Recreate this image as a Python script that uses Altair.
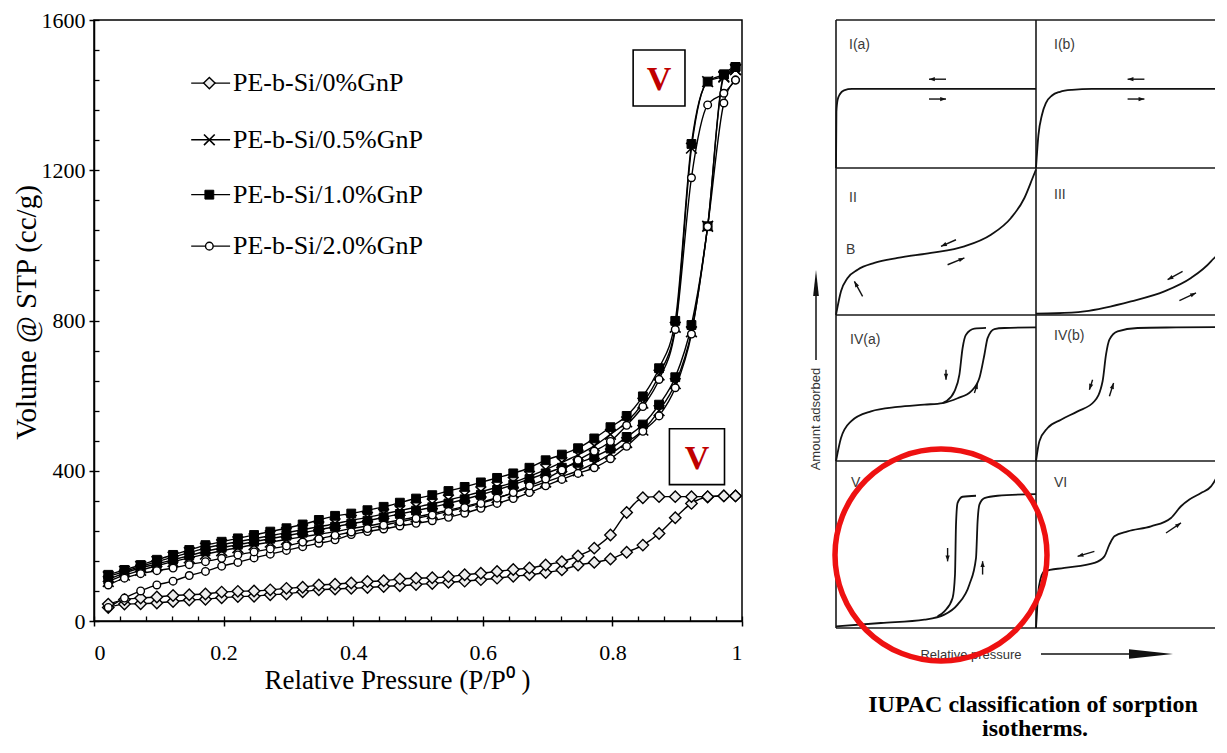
import math
import pandas as pd
import altair as alt

# ------------------------------------------------------------------
# LEFT CHART DATA  (relative pressure vs volume adsorbed)
# ------------------------------------------------------------------
P = [0.022, 0.047, 0.072, 0.097, 0.122, 0.147, 0.172, 0.197, 0.222, 0.247,
     0.272, 0.297, 0.322, 0.347, 0.372, 0.397, 0.422, 0.447, 0.472, 0.497,
     0.522, 0.547, 0.572, 0.597, 0.622, 0.647, 0.672, 0.697, 0.722, 0.747,
     0.772, 0.797, 0.822, 0.847, 0.872, 0.897, 0.922, 0.947, 0.972, 0.990]

series_names = ["PE-b-Si/0%GnP", "PE-b-Si/0.5%GnP", "PE-b-Si/1.0%GnP", "PE-b-Si/2.0%GnP"]

gnp00_ads = [36, 45, 46, 48, 52, 56, 58, 62, 65, 66, 70, 72, 78, 83, 85, 87, 89, 92, 94, 97,
             100, 103, 106, 110, 114, 119, 123, 129, 136, 149, 156, 165, 183, 202, 233, 275,
             313, 330, 333, 333]
gnp00_des = [45, 57, 61, 64, 68, 70, 72, 77, 79, 80, 83, 87, 90, 96, 98, 101, 105, 107, 112, 114,
             115, 118, 123, 127, 132, 137, 141, 149, 158, 173, 194, 229, 289, 328, 331, 331,
             331, 331, 333, 333]

gnp05_ads = [105, 122, 135, 147, 158, 168, 178, 187, 195, 203, 210, 217, 224, 231, 238, 246,
             253, 261, 269, 277, 286, 295, 305, 316, 328, 341, 355, 370, 385, 400, 420, 445,
             475, 508, 560, 632, 770, 1051, 1448, 1468]
gnp05_des = [118, 132, 145, 158, 170, 182, 194, 203, 211, 219, 227, 235, 243, 251, 259, 268,
             276, 285, 294, 303, 312, 322, 333, 344, 356, 369, 385, 403, 422, 442, 466, 497,
             530, 580, 655, 782, 1259, 1436, 1450, 1468]

gnp10_ads = [110, 128, 141, 152, 163, 174, 185, 195, 203, 211, 219, 227, 235, 243, 251, 259,
             267, 276, 285, 294, 303, 313, 324, 336, 349, 363, 378, 393, 408, 421, 437, 459,
             490, 523, 576, 649, 788, 1051, 1455, 1475]
gnp10_des = [123, 136, 149, 163, 176, 189, 202, 211, 220, 229, 238, 247, 257, 269, 280, 286,
             295, 304, 315, 326, 335, 346, 357, 369, 381, 393, 408, 428, 443, 460, 486, 516,
             546, 598, 673, 799, 1270, 1436, 1455, 1475]

gnp20_ads = [36, 61, 80, 96, 106, 121, 132, 146, 156, 168, 178, 188, 198, 207, 216, 230,
             238, 245, 253, 260, 267, 276, 287, 300, 313, 326, 342, 360, 377, 393, 408, 432,
             465, 505, 546, 621, 764, 1050, 1379, 1440]
gnp20_des = [96, 114, 126, 134, 141, 150, 158, 167, 176, 184, 192, 200, 210, 219, 228, 237,
             246, 255, 264, 273, 282, 292, 302, 313, 327, 342, 360, 378, 402, 428, 452, 478,
             521, 571, 643, 776, 1180, 1374, 1405, 1440]

branches = {
    series_names[0]: (gnp00_ads, gnp00_des),
    series_names[1]: (gnp05_ads, gnp05_des),
    series_names[2]: (gnp10_ads, gnp10_des),
    series_names[3]: (gnp20_ads, gnp20_des),
}

# in-plot legend (data units)
leg_V = [1432, 1281, 1135, 998]
leg_line_P = [0.150, 0.210]
leg_sym_P = 0.178
leg_text_P = 0.2145

# "V" annotation boxes
box_P0 = [0.832, 0.888]
box_P1 = [0.912, 0.973]
box_V0 = [1371, 363]
box_V1 = [1520, 512]
box_label = ["V", "V"]

x_major = [0, 0.2, 0.4, 0.6, 0.8, 1.0]
x_minor = [0, 0.04, 0.08, 0.12, 0.16, 0.2, 0.24, 0.28, 0.32, 0.36, 0.4, 0.44, 0.48,
           0.52, 0.56, 0.6, 0.64, 0.68, 0.72, 0.76, 0.8, 0.84, 0.88, 0.92, 0.96, 1.0]
y_major = [0, 400, 800, 1200, 1600]
y_minor = [0, 80, 160, 240, 320, 400, 480, 560, 640, 720, 800, 880, 960, 1040, 1120,
           1200, 1280, 1360, 1440, 1520, 1600]

# ------------------------------------------------------------------
# RIGHT FIGURE DATA (IUPAC schematic isotherms, normalised per panel)
# ------------------------------------------------------------------
Ia_p = [0, 0.002, 0.008, 0.02, 0.04, 0.08, 1.0]
Ia_a = [0, 0.38, 0.46, 0.50, 0.525, 0.534, 0.534]
Ib_p = [0, 0.012, 0.03, 0.05, 0.08, 0.12, 0.18, 0.28, 1.0]
Ib_a = [0, 0.22, 0.36, 0.44, 0.49, 0.515, 0.528, 0.534, 0.534]
II_p = [0, 0.025, 0.058, 0.108, 0.192, 0.308, 0.475, 0.642, 0.775, 0.875, 0.942, 0.983, 1.0]
II_a = [0, 0.161, 0.252, 0.308, 0.354, 0.388, 0.422, 0.467, 0.546, 0.66, 0.796, 0.932, 0.99]
III_p = [0, 0.1, 0.242, 0.475, 0.642, 0.775, 0.875, 0.958, 0.985, 1.0]
III_a = [0.01, 0.012, 0.025, 0.093, 0.161, 0.252, 0.365, 0.524, 0.72, 0.99]
IVa_ads_p = [0, 0.025, 0.075, 0.175, 0.308, 0.442, 0.533, 0.608, 0.675, 0.717, 0.742, 0.758, 0.792, 0.842, 1.0]
IVa_ads_a = [0, 0.158, 0.272, 0.34, 0.37, 0.386, 0.397, 0.43, 0.477, 0.568, 0.728, 0.842, 0.904, 0.911, 0.915]
IVa_des_p = [0.533, 0.55, 0.592, 0.617, 0.633, 0.65, 0.692, 0.75]
IVa_des_a = [0.397, 0.409, 0.477, 0.591, 0.774, 0.865, 0.906, 0.912]
IVb_p = [0, 0.017, 0.058, 0.125, 0.208, 0.292, 0.333, 0.35, 0.367, 0.408, 0.508, 0.7, 1.0]
IVb_a = [0, 0.135, 0.226, 0.283, 0.34, 0.409, 0.546, 0.728, 0.831, 0.888, 0.911, 0.915, 0.918]
V_ads_p = [0, 0.225, 0.442, 0.542, 0.608, 0.667, 0.7, 0.708, 0.717, 0.742, 0.808, 1.0]
V_ads_a = [0.01, 0.03, 0.05, 0.08, 0.14, 0.26, 0.419, 0.639, 0.739, 0.778, 0.792, 0.802]
V_des_p = [0.508, 0.542, 0.583, 0.595, 0.6, 0.608, 0.633, 0.7]
V_des_a = [0.07, 0.1, 0.18, 0.32, 0.619, 0.749, 0.786, 0.792]
VI_p = [0, 0.006, 0.015, 0.042, 0.142, 0.292, 0.342, 0.367, 0.392, 0.458, 0.575, 0.675,
        0.725, 0.767, 0.825, 0.875, 0.908, 0.925]
VI_a = [0, 0.12, 0.25, 0.34, 0.36, 0.39, 0.429, 0.499, 0.549, 0.579, 0.609, 0.659,
        0.729, 0.769, 0.808, 0.848, 0.918, 0.99]

curve_list = [
    ("Ia", "Ia", Ia_p, Ia_a), ("Ib", "Ib", Ib_p, Ib_a),
    ("II", "II", II_p, II_a), ("III", "III", III_p, III_a),
    ("IVa", "IVa_ads", IVa_ads_p, IVa_ads_a), ("IVa", "IVa_des", IVa_des_p, IVa_des_a),
    ("IVb", "IVb", IVb_p, IVb_a),
    ("V", "V_ads", V_ads_p, V_ads_a), ("V", "V_des", V_des_p, V_des_a),
    ("VI", "VI", VI_p, VI_a),
]

# small arrows: panel, tail (p, a), head (p, a)
arrow_panel = ["Ia", "Ia", "Ib", "Ib", "II", "II", "II", "III", "III",
               "IVa", "IVa", "IVb", "IVb", "V", "V", "VI", "VI"]
arrow_tail_p = [0.55, 0.465, 0.542, 0.458, 0.60, 0.558, 0.133, 0.733, 0.717,
                0.55, 0.692, 0.283, 0.367, 0.558, 0.733, 0.292, 0.65]
arrow_tail_a = [0.60, 0.466, 0.60, 0.466, 0.512, 0.342, 0.127, 0.297, 0.097,
                0.625, 0.466, 0.557, 0.443, 0.479, 0.32, 0.459, 0.569]
arrow_head_p = [0.465, 0.55, 0.458, 0.542, 0.525, 0.642, 0.092, 0.658, 0.80,
                0.55, 0.708, 0.267, 0.388, 0.558, 0.733, 0.208, 0.725]
arrow_head_a = [0.60, 0.466, 0.60, 0.466, 0.467, 0.388, 0.229, 0.24, 0.15,
                0.557, 0.534, 0.488, 0.534, 0.399, 0.40, 0.429, 0.629]

panel_labels = ["I(a)", "I(b)", "II", "III", "IV(a)", "IV(b)", "V", "VI", "B"]
label_panel = ["Ia", "Ib", "II", "III", "IVa", "IVb", "V", "VI", "II"]
label_p = [0.065, 0.09, 0.065, 0.09, 0.07, 0.09, 0.075, 0.09, 0.05]
label_a = [0.83, 0.83, 0.796, 0.818, 0.83, 0.856, 0.868, 0.868, 0.444]

# ------------------------------------------------------------------
# layout of the right-hand figure (page pixels)
# ------------------------------------------------------------------
GRID_LEFT = 835
COL_W = 200
ROW_TOP = [22, 170, 317, 463]
ROW_BOT = [170, 317, 463, 630]
panel_pos = {"Ia": (0, 0), "Ib": (1, 0), "II": (0, 1), "III": (1, 1),
             "IVa": (0, 2), "IVb": (1, 2), "V": (0, 3), "VI": (1, 3)}
RX0, RX1 = 790, 1214
RY0, RY1 = 22, 741


def fig_xy(panel, p, a):
    col, row = panel_pos[panel]
    X = GRID_LEFT + (col + p) * COL_W
    Y = -(ROW_BOT[row] - a * (ROW_BOT[row] - ROW_TOP[row]))
    return X, Y


# ------------------------------------------------------------------
# build left chart
# ------------------------------------------------------------------
SERIF = "Liberation Serif"
SANS = "Liberation Sans"
LW, LH = 648, 601

line_rows, pt_rows = [], []
for i, name in enumerate(series_names):
    ads, des = branches[name]
    for b, vals in (("ads", ads), ("des", des)):
        for p, v in zip(P, vals):
            line_rows.append({"P": p, "V": v, "key": f"{i}_{b}"})
            pt_rows.append({"P": p, "V": v, "series": name})
    for p in leg_line_P:
        line_rows.append({"P": p, "V": leg_V[i], "key": f"{i}_leg"})
    pt_rows.append({"P": leg_sym_P, "V": leg_V[i], "series": name})
lines_df = pd.DataFrame(line_rows)
pts_df = pd.DataFrame(pt_rows)

xs = alt.Scale(domain=[0, 1], nice=False, zero=False)
ys = alt.Scale(domain=[0, 1600], nice=False, zero=False)

axis_x_main = alt.Axis(orient="bottom", values=x_major, format="~g", grid=False,
                       tickSize=5, tickWidth=1.5, tickColor="black",
                       domainColor="black", domainWidth=1.5,
                       labelFont=SERIF, labelFontSize=22, labelColor="black", labelPadding=16,
                       title="Relative Pressure (P/P\u2070 )", titleFont=SERIF, titleFontSize=27,
                       titleFontWeight="normal", titleColor="black", titlePadding=4,
                       titleX=303)
axis_y_main = alt.Axis(orient="left", values=y_major, format="d", grid=False,
                       tickSize=5, tickWidth=1.5, tickColor="black",
                       domainColor="black", domainWidth=1.5,
                       labelFont=SERIF, labelFontSize=22, labelColor="black", labelPadding=4,
                       title="Volume @ STP (cc/g)", titleFont=SERIF, titleFontSize=29,
                       titleFontWeight="normal", titleColor="black", titlePadding=0,
                       titleY=292)
axis_x_in = alt.Axis(orient="top", offset=-LH, values=x_minor, labels=False, domain=False,
                     grid=False, tickSize=5, tickWidth=1.3, tickColor="black", title=None)
axis_y_in = alt.Axis(orient="right", offset=-LW, values=y_minor, labels=False, domain=False,
                     grid=False, tickSize=5, tickWidth=1.3, tickColor="black", title=None)

lines_layer = alt.Chart(lines_df).mark_line(color="black", strokeWidth=1.4,
                                            interpolate="monotone").encode(
    x=alt.X("P:Q", scale=xs, axis=axis_x_main),
    y=alt.Y("V:Q", scale=ys, axis=axis_y_main),
    detail="key:N")

ticks_layer = alt.Chart(lines_df).mark_point(opacity=0).encode(
    x=alt.X("P:Q", scale=xs, axis=axis_x_in),
    y=alt.Y("V:Q", scale=ys, axis=axis_y_in))


def pts(name, **mark):
    return alt.Chart(pts_df[pts_df.series == name]).mark_point(opacity=1, **mark).encode(
        x=alt.X("P:Q", scale=xs, axis=None),
        y=alt.Y("V:Q", scale=ys, axis=None))


dia = pts(series_names[0], shape="diamond", filled=True, fill="#eeeeee", stroke="black",
          strokeWidth=1.4, size=130)
crs = pts(series_names[1], shape="M-1,-1L1,1M-1,1L1,-1", filled=False, stroke="black",
          strokeWidth=1.6, size=115)
sqr = pts(series_names[2], shape="square", filled=True, fill="black", stroke="black",
          strokeWidth=1, size=78)
cir = pts(series_names[3], shape="circle", filled=True, fill="white", stroke="black",
          strokeWidth=1.4, size=58)

leg_df = pd.DataFrame({"P": [leg_text_P] * 4, "V": leg_V, "label": series_names})
leg_text = alt.Chart(leg_df).mark_text(align="left", baseline="middle", font=SERIF,
                                       fontSize=26, color="black").encode(
    x=alt.X("P:Q", scale=xs, axis=None), y=alt.Y("V:Q", scale=ys, axis=None), text="label:N")

box_df = pd.DataFrame({"P0": box_P0, "P1": box_P1, "V0": box_V0, "V1": box_V1, "lab": box_label})
box_df["Pc"] = (box_df.P0 + box_df.P1) / 2
box_df["Vc"] = (box_df.V0 + box_df.V1) / 2
boxes = alt.Chart(box_df).mark_rect(fill="white", stroke="black", strokeWidth=1.6).encode(
    x=alt.X("P0:Q", scale=xs, axis=None), x2="P1:Q",
    y=alt.Y("V0:Q", scale=ys, axis=None), y2="V1:Q")
box_txt = alt.Chart(box_df).mark_text(font=SERIF, fontSize=34, fontWeight="bold",
                                      color="#c00000", baseline="middle", align="center",
                                      dy=2).encode(
    x=alt.X("Pc:Q", scale=xs, axis=None), y=alt.Y("Vc:Q", scale=ys, axis=None), text="lab:N")

left = alt.layer(lines_layer, ticks_layer, dia, crs, sqr, cir, leg_text, boxes, box_txt).resolve_axis(
    x="independent", y="independent").properties(
    width=LW, height=LH, view=alt.ViewBackground(stroke="black", strokeWidth=1.5))

# ------------------------------------------------------------------
# build right figure
# ------------------------------------------------------------------
rxs = alt.Scale(domain=[RX0, RX1], nice=False, zero=False)
rys = alt.Scale(domain=[-RY1, -RY0], nice=False, zero=False)


def RX(f):
    return alt.X(f, scale=rxs, axis=None)


def RY(f):
    return alt.Y(f, scale=rys, axis=None)


# grid lines
grid_rows = []
for yb in [22, 170, 317, 463, 630]:
    grid_rows.append({"X": GRID_LEFT, "X2": min(GRID_LEFT + 2 * COL_W, RX1), "Y": -yb, "Y2": -yb})
for xc in [GRID_LEFT, GRID_LEFT + COL_W]:
    grid_rows.append({"X": xc, "X2": xc, "Y": -22, "Y2": -630})
grid = alt.Chart(pd.DataFrame(grid_rows)).mark_rule(color="#1a1a1a", strokeWidth=1.6).encode(
    x=RX("X:Q"), x2="X2:Q", y=RY("Y:Q"), y2="Y2:Q")

crow = []
for panel, cid, ps, as_ in curve_list:
    for k, (p, a) in enumerate(zip(ps, as_)):
        X, Y = fig_xy(panel, p, a)
        crow.append({"X": X, "Y": Y, "cid": cid, "o": k})
curves = alt.Chart(pd.DataFrame(crow)).mark_line(color="#111111", strokeWidth=1.8,
                                                 interpolate="monotone", clip=True).encode(
    x=RX("X:Q"), y=RY("Y:Q"), detail="cid:N", order="o:Q")

arow = []
for pn, tp, ta, hp, ha in zip(arrow_panel, arrow_tail_p, arrow_tail_a, arrow_head_p, arrow_head_a):
    X1, Y1 = fig_xy(pn, tp, ta)
    X2, Y2 = fig_xy(pn, hp, ha)
    ang = math.degrees(math.atan2(X2 - X1, Y2 - Y1)) % 360
    arow.append({"X": X1, "Y": Y1, "X2": X2, "Y2": Y2, "ang": ang})
arr_df = pd.DataFrame(arow)
arr_shaft = alt.Chart(arr_df).mark_rule(color="#111111", strokeWidth=1.4).encode(
    x=RX("X:Q"), x2="X2:Q", y=RY("Y:Q"), y2="Y2:Q")
arr_head = alt.Chart(arr_df).mark_point(shape="M0,0L-0.55,1.5L0.55,1.5Z", filled=True,
                                        color="#111111", size=60, opacity=1).encode(
    x=RX("X2:Q"), y=RY("Y2:Q"), angle=alt.Angle("ang:Q", scale=None))

lrow = []
for lab, pn, p, a in zip(panel_labels, label_panel, label_p, label_a):
    X, Y = fig_xy(pn, p, a)
    lrow.append({"X": X, "Y": Y, "t": lab})
plabels = alt.Chart(pd.DataFrame(lrow)).mark_text(align="left", baseline="middle", font=SANS,
                                                  fontSize=14, color="#3a3a3a").encode(
    x=RX("X:Q"), y=RY("Y:Q"), text="t:N")

# axis annotations of the schematic
ann_df = pd.DataFrame({"X": [970, 815], "Y": [-657, -421], "t": ["Relative pressure", "Amount adsorbed"],
                       "ang": [0, 270]})
ann_txt = alt.Chart(ann_df).mark_text(align="center", baseline="middle", font=SANS,
                                      fontSize=13, color="#333333").encode(
    x=RX("X:Q"), y=RY("Y:Q"), text="t:N", angle=alt.Angle("ang:Q", scale=None))
big_shaft = alt.Chart(pd.DataFrame({"X": [1040, 815], "X2": [1135, 815],
                                    "Y": [-656, -362], "Y2": [-656, -292]})).mark_rule(
    color="#111111", strokeWidth=1.5).encode(x=RX("X:Q"), x2="X2:Q", y=RY("Y:Q"), y2="Y2:Q")
big_head = alt.Chart(pd.DataFrame({"X": [1150, 815], "Y": [-656, -285], "ang": [90, 0],
                                   "s": [1936, 676]})).mark_point(
    shape="M-0.22,1L0,-1L0.22,1Z", filled=True, color="#111111", opacity=1).encode(
    x=RX("X:Q"), y=RY("Y:Q"), angle=alt.Angle("ang:Q", scale=None), size=alt.Size("s:Q", scale=None))

ring = alt.Chart(pd.DataFrame({"X": [940], "Y": [-557]})).mark_point(
    shape="circle", filled=False, color="#ee1111", strokeWidth=5.5, size=212 * 212, opacity=1).encode(
    x=RX("X:Q"), y=RY("Y:Q"))

cap_df = pd.DataFrame({"X": [1032, 1034], "Y": [-707, -731],
                       "t": ["IUPAC classification of sorption", "isotherms."]})
caption = alt.Chart(cap_df).mark_text(align="center", baseline="middle", font=SERIF, fontSize=24,
                                      fontWeight="bold", color="black").encode(
    x=RX("X:Q"), y=RY("Y:Q"), text="t:N")

right = alt.layer(grid, curves, arr_shaft, arr_head, plabels, ann_txt, big_shaft, big_head,
                  ring, caption).properties(width=RX1 - RX0, height=RY1 - RY0)

chart = alt.hconcat(left, right, spacing=46).properties(
    padding={"left": 3, "top": 0, "right": 0, "bottom": 0}).configure_view(stroke=None)

chart.save("out.html", embed_options={"renderer": "svg", "actions": False})
